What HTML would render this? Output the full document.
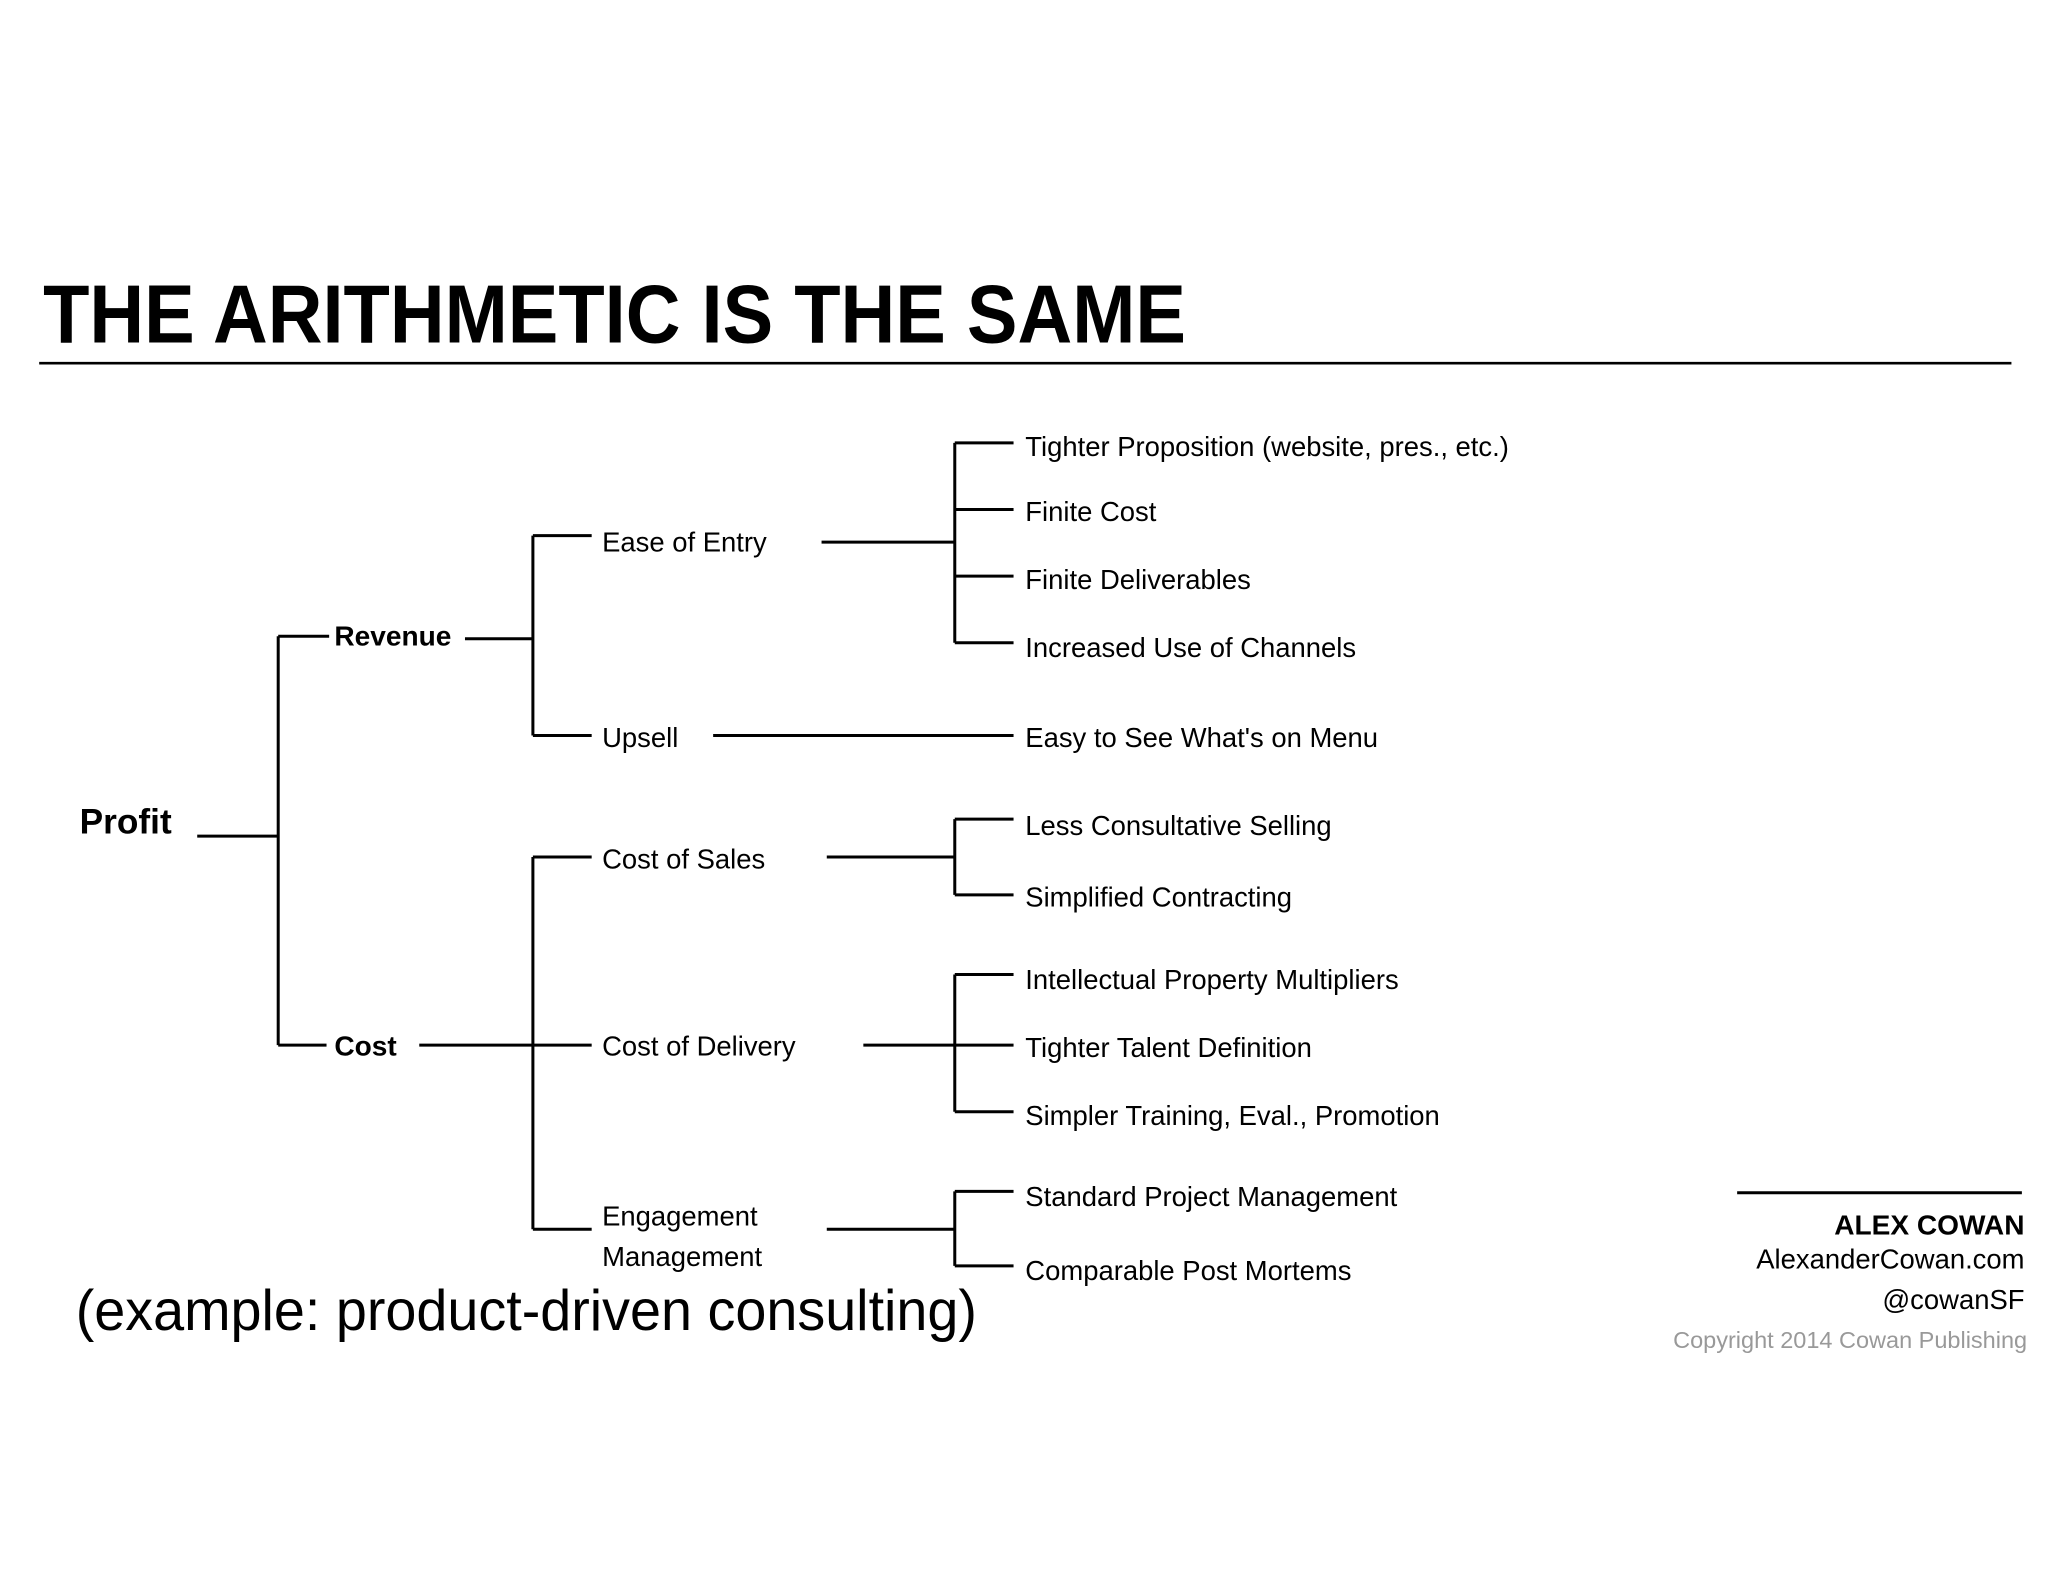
<!DOCTYPE html>
<html><head><meta charset="utf-8"><style>
html,body{margin:0;padding:0;background:#fff;}
svg{display:block;}
text{font-family:"Liberation Sans",Arial,sans-serif;fill:#000;}
</style></head><body>
<svg width="2048" height="1582" viewBox="0 0 1568 1211" preserveAspectRatio="none" xmlns="http://www.w3.org/2000/svg">
<rect width="1568" height="1211" fill="#fff"/>
<text x="33" y="262" font-size="63" font-weight="bold" textLength="875" lengthAdjust="spacingAndGlyphs">THE ARITHMETIC IS THE SAME</text>
<line x1="30" y1="278" x2="1540" y2="278" stroke="#000" stroke-width="2"/>
<g stroke="#000" stroke-width="2.3" fill="none">
<path d="M151 640H213M213 487V800M213 487H252M213 800H250"/>
<path d="M356 489H408M408 410V563M408 410H453M408 563H453"/>
<path d="M629 415H731M731 339V492M731 339H776M731 390H776M731 441H776M731 492H776"/>
<path d="M546 563H776"/>
<path d="M408 656V941M408 656H453M408 941H453M321 800H453"/>
<path d="M633 656H731M731 627V685M731 627H776M731 685H776"/>
<path d="M661 800H776M731 746V851M731 746H776M731 851H776"/>
<path d="M633 941H731M731 912V969M731 912H776M731 969H776"/>
<path d="M1330 913H1548"/>
</g>
<text x="61" y="638" font-size="27" font-weight="bold">Profit</text>
<text x="256" y="494" font-size="21.5" font-weight="bold">Revenue</text>
<text x="256" y="808" font-size="21.5" font-weight="bold">Cost</text>
<g font-size="21">
<text x="461" y="422">Ease of Entry</text>
<text x="461" y="572">Upsell</text>
<text x="461" y="665">Cost of Sales</text>
<text x="461" y="808">Cost of Delivery</text>
<text x="461" y="938">Engagement</text>
<text x="461" y="969">Management</text>
<text x="785" y="349">Tighter Proposition (website, pres., etc.)</text>
<text x="785" y="399">Finite Cost</text>
<text x="785" y="451">Finite Deliverables</text>
<text x="785" y="503">Increased Use of Channels</text>
<text x="785" y="572">Easy to See What's on Menu</text>
<text x="785" y="639">Less Consultative Selling</text>
<text x="785" y="694">Simplified Contracting</text>
<text x="785" y="757">Intellectual Property Multipliers</text>
<text x="785" y="809">Tighter Talent Definition</text>
<text x="785" y="861">Simpler Training, Eval., Promotion</text>
<text x="785" y="923">Standard Project Management</text>
<text x="785" y="980">Comparable Post Mortems</text>
</g>
<text x="58" y="1018" font-size="44" textLength="690" lengthAdjust="spacingAndGlyphs">(example: product-driven consulting)</text>
<g text-anchor="end">
<text x="1550" y="945" font-size="21.5" font-weight="bold">ALEX COWAN</text>
<text x="1550" y="971" font-size="21">AlexanderCowan.com</text>
<text x="1550" y="1002" font-size="21">@cowanSF</text>
<text x="1552" y="1032" font-size="18" style="fill:#999">Copyright 2014 Cowan Publishing</text>
</g>
</svg>
</body></html>
